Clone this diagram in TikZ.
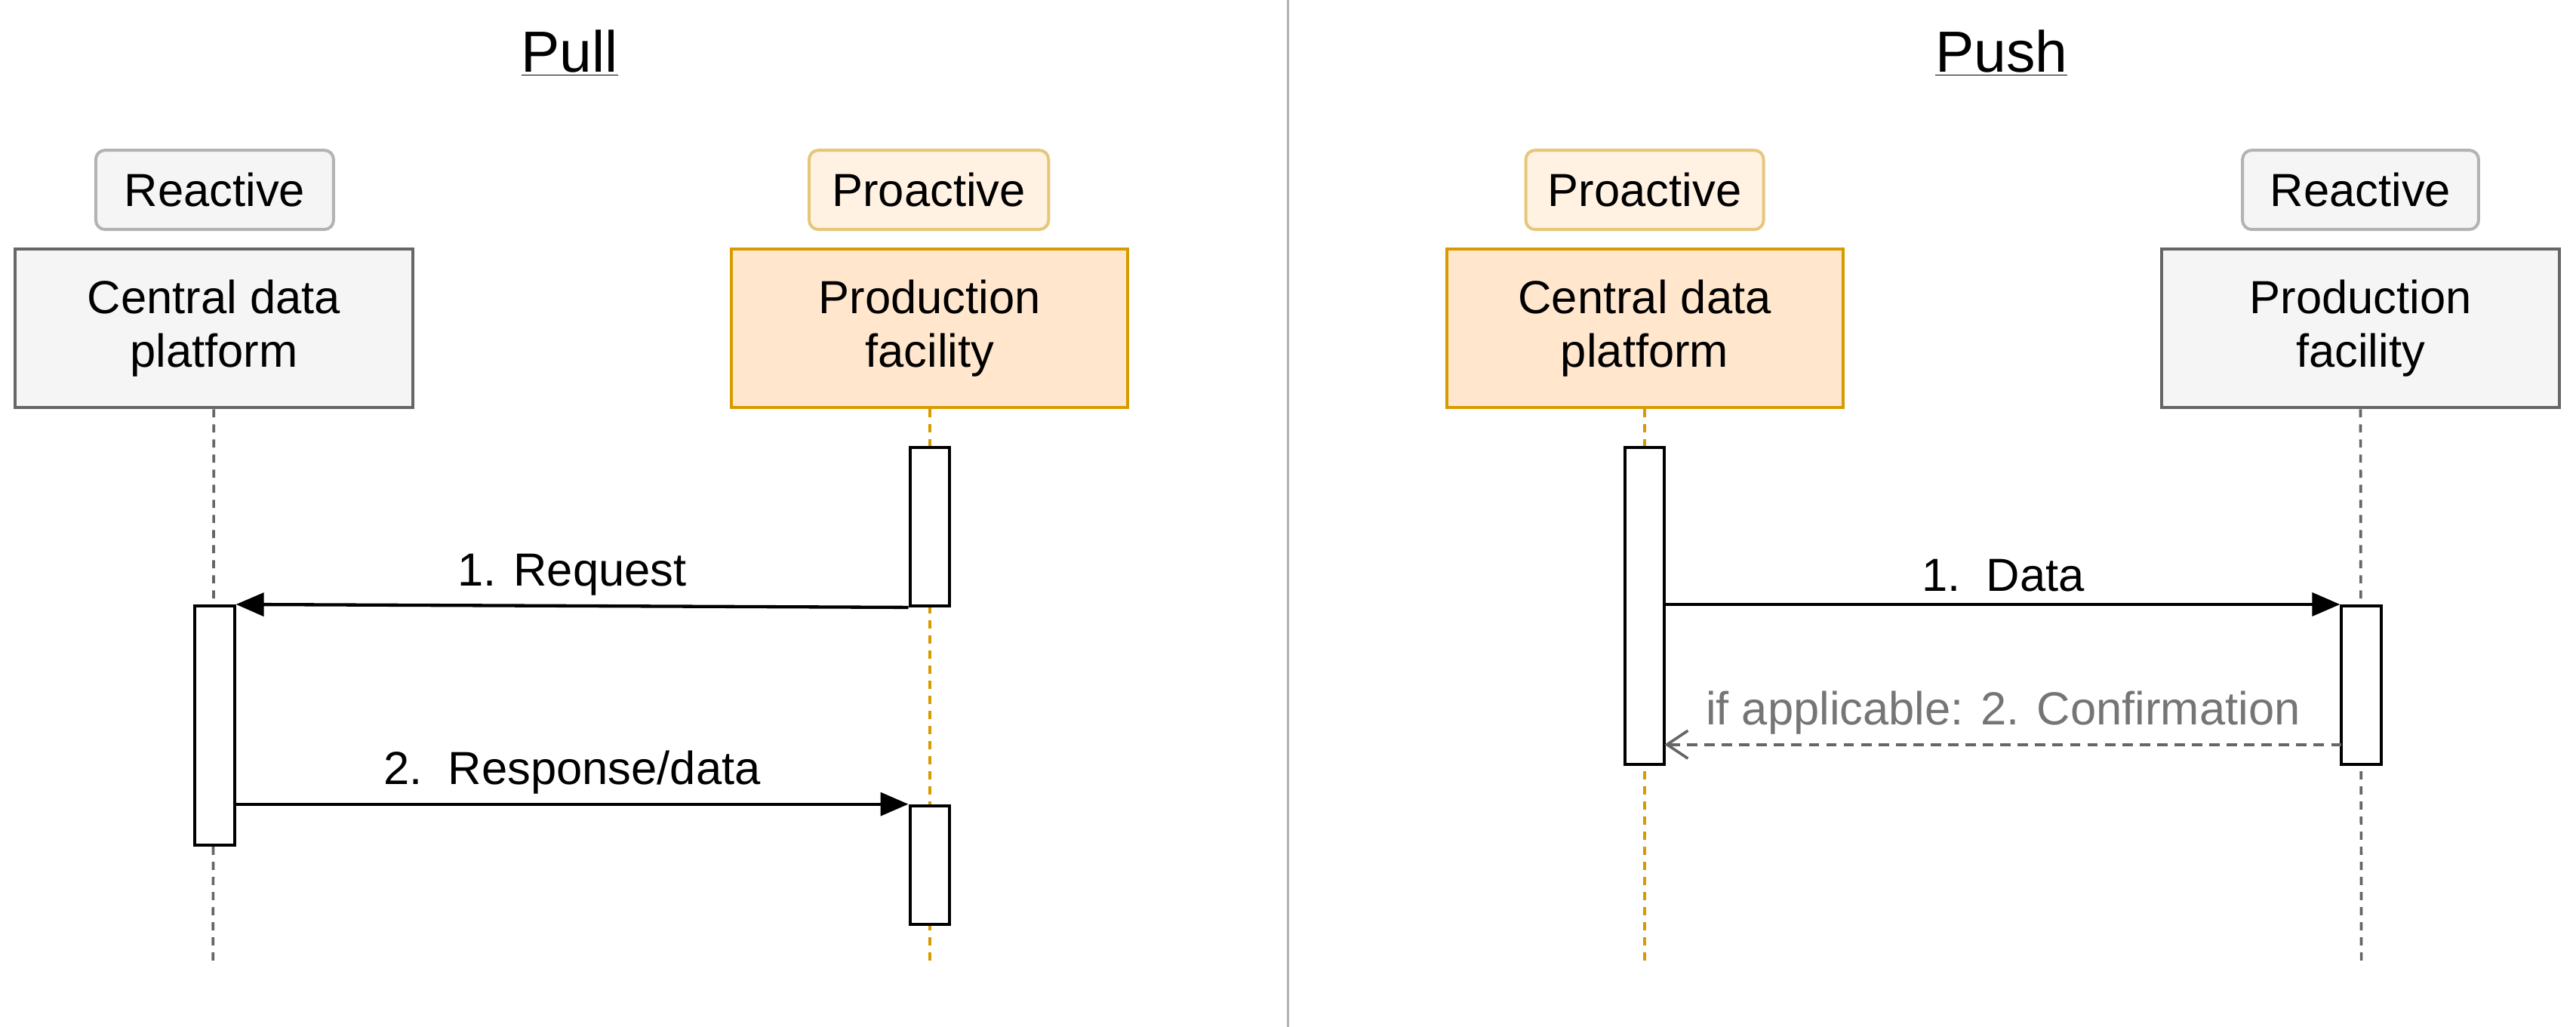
\documentclass[tikz,border=0pt]{standalone}
\usepackage{fontspec}
\setmainfont{Liberation Sans}
\usetikzlibrary{arrows.meta}
\definecolor{gfill}{HTML}{F5F5F5}
\definecolor{gline}{HTML}{666666}
\definecolor{glab}{HTML}{B3B3B3}
\definecolor{ofill}{HTML}{FFE6CC}
\definecolor{oline}{HTML}{D79B00}
\definecolor{olfill}{HTML}{FFF2E3}
\definecolor{olline}{HTML}{E6C77A}
\begin{document}
\begin{tikzpicture}[x=0.05cm,y=-0.05cm,
  txt/.style={font=\fontsize{40}{46}\selectfont},
  ttl/.style={font=\fontsize{50}{56}\selectfont},
  box/.style={draw,line width=2.6pt,align=center,txt,inner sep=0pt},
  lab/.style={draw,rounded corners=8pt,line width=2.6pt,txt,inner sep=0pt},
  act/.style={draw=black,fill=white,line width=2.6pt},
  life/.style={line width=2.4pt,dash pattern=on 7pt off 6pt},
  msg/.style={line width=2.8pt,-{Triangle[length=24pt,width=20pt]}},
  ret/.style={line width=2.4pt,draw=gline,dash pattern=on 9pt off 6pt,-{Straight Barb[length=18pt,width=24pt]}}]
\useasboundingbox (0,0) rectangle (1560,622);
\draw[glab,line width=2pt] (780,0) -- (780,622);
\node[ttl] (t1) at (345,32) {\underline{Pull}};
\node[ttl] (t2) at (1212,32) {\underline{Push}};
% Pull
\node[lab,draw=glab,fill=gfill,minimum width=144*0.05cm,minimum height=48*0.05cm] (lr1) at (130,115) {Reactive};
\node[box,draw=gline,fill=gfill,minimum width=241*0.05cm,minimum height=96*0.05cm] (lc) at (129.5,199) {Central data\\platform};
\node[lab,draw=olline,fill=olfill,minimum width=145*0.05cm,minimum height=48*0.05cm] (lp1) at (562.5,115) {Proactive};
\node[box,draw=oline,fill=ofill,minimum width=240*0.05cm,minimum height=96*0.05cm] (lp) at (563,199) {Production\\facility};
\coordinate (le1) at (129,585); \coordinate (le2) at (563,585);
\draw[life,gline] (lc.south) -- (le1);
\draw[life,oline] (lp.south) -- (le2);
\node[act,minimum width=24*0.05cm,minimum height=96*0.05cm,inner sep=0pt] (a1) at (563,319) {};
\node[act,minimum width=24*0.05cm,minimum height=145*0.05cm,inner sep=0pt] (a2) at (130,439.5) {};
\node[act,minimum width=24*0.05cm,minimum height=72*0.05cm,inner sep=0pt] (a3) at (563,524) {};
\draw[msg] (a1.south west) -- (a2.north east) node[midway,above=4pt,txt] {1. Request};
\draw[msg] (a2.east |- a3.north) -- (a3.north west) node[midway,above=4pt,txt] {2.\ \ Response/data};
% Push
\node[lab,draw=olline,fill=olfill,minimum width=144*0.05cm,minimum height=48*0.05cm] (rp1) at (996,115) {Proactive};
\node[box,draw=oline,fill=ofill,minimum width=240*0.05cm,minimum height=96*0.05cm] (rc) at (996,199) {Central data\\platform};
\node[lab,draw=glab,fill=gfill,minimum width=143*0.05cm,minimum height=48*0.05cm] (rr1) at (1429.5,115) {Reactive};
\node[box,draw=gline,fill=gfill,minimum width=241*0.05cm,minimum height=96*0.05cm] (rp) at (1429.5,199) {Production\\facility};
\coordinate (re1) at (996,585); \coordinate (re2) at (1430,585);
\draw[life,oline] (rc.south) -- (re1);
\draw[life,gline] (rp.south) -- (re2);
\node[act,minimum width=24*0.05cm,minimum height=192*0.05cm,inner sep=0pt] (b1) at (996,367) {};
\node[act,minimum width=24*0.05cm,minimum height=96*0.05cm,inner sep=0pt] (b2) at (1430,415) {};
\draw[msg] (b1.east |- b2.north) -- (b2.north west) node[midway,above=6pt,txt] {1.\ \ Data};
\coordinate (c1) at (1418,451); \coordinate (c2) at (1008,451);
\draw[ret] (c1) -- (c2) node[midway,above=4pt,txt,text=gline!90] {if applicable: 2. Confirmation};
\end{tikzpicture}
\end{document}
